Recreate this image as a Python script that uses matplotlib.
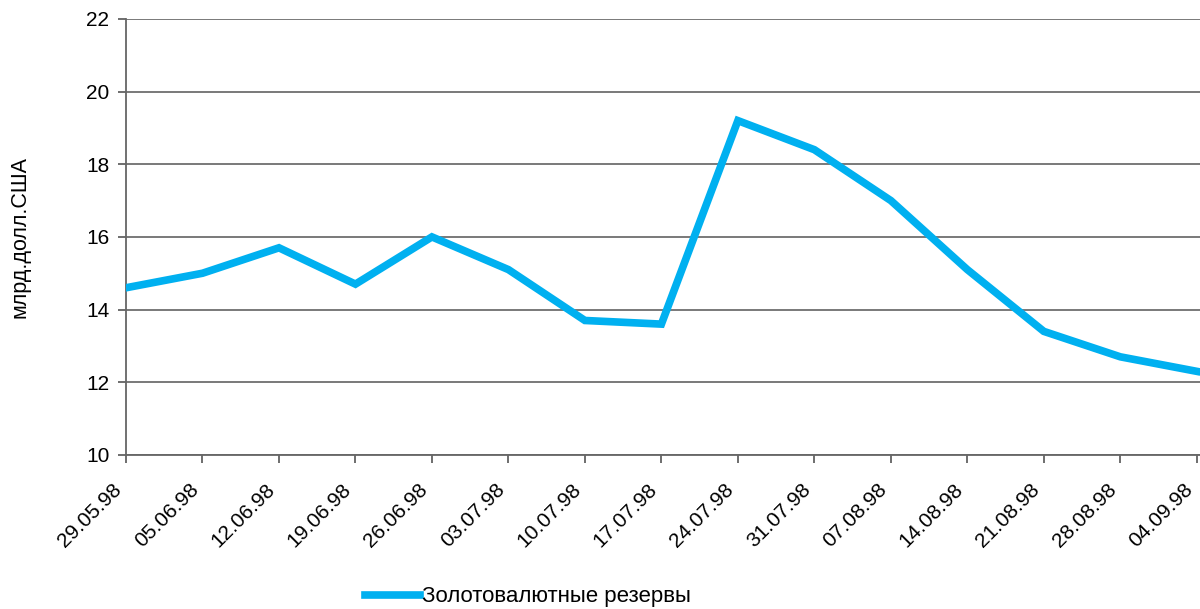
import matplotlib
matplotlib.use('Agg')
import matplotlib.pyplot as plt
import matplotlib.transforms as mtransforms

plt.rcParams['font.family'] = ['Liberation Sans', 'DejaVu Sans']

# weekly reserves, bn USD
dates = ['29.05.98', '05.06.98', '12.06.98', '19.06.98', '26.06.98', '03.07.98',
         '10.07.98', '17.07.98', '24.07.98', '31.07.98', '07.08.98', '14.08.98',
         '21.08.98', '28.08.98', '04.09.98']
reserves = [14.6, 15.0, 15.7, 14.7, 16.0, 15.1, 13.7, 13.6, 19.2, 18.4, 17.0,
            15.1, 13.4, 12.7, 12.3]
yticks = [10, 12, 14, 16, 18, 20, 22]

fig = plt.figure(figsize=(12, 6.09), dpi=100)
ax = fig.add_axes([0.105, 0.253, 0.8955, 0.716])

x = list(range(len(dates)))
line, = ax.plot(x, reserves, color='#00B0F0', linewidth=5.5,
                solid_joinstyle='miter', label='Золотовалютные резервы', zorder=3)

ax.set_ylim(10, 22)
ax.set_xlim(0, len(dates) - 1 + 0.05)
ax.set_yticks(yticks)
ax.set_xticks(x)
ax.set_xticklabels(dates, rotation=45, ha='right', va='center', rotation_mode='anchor')
ax.tick_params(axis='both', labelsize=15, direction='out', length=6,
               width=1.2, color='#555555', pad=6)
ax.tick_params(axis='x', pad=17)
# nudge date labels a bit to the left, like the original
shift = mtransforms.ScaledTranslation(-5 / 72, 0, fig.dpi_scale_trans)
for lbl in ax.get_xticklabels():
    lbl.set_transform(lbl.get_transform() + shift)
ax.yaxis.grid(True, color='#555555', linewidth=1.1)
ax.set_axisbelow(True)
for s in ['top', 'right']:
    ax.spines[s].set_visible(False)
for s in ['left', 'bottom']:
    ax.spines[s].set_color('#666666')
    ax.spines[s].set_linewidth(1.3)

ax.set_ylabel('млрд.долл.США', fontsize=15.5, labelpad=40)

fig.legend(handles=[line], loc='center', bbox_to_anchor=(0.44, 0.02),
           frameon=False, fontsize=16, handlelength=2.5, handletextpad=0.1)

fig.savefig('out.png', dpi=100)
